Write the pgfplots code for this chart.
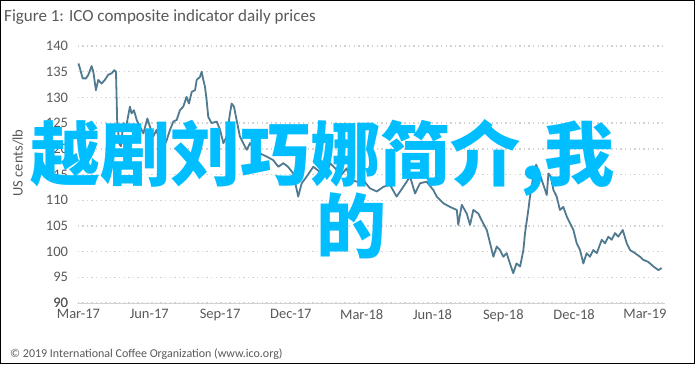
\documentclass[border=0pt]{standalone}
\usepackage{fontspec}
\setmainfont{Carlito}
\newfontfamily\cjk{Noto Sans CJK SC}
\usepackage{pgfplots}
\pgfplotsset{compat=1.18}
\definecolor{lineblue}{RGB}{80,122,143}
\definecolor{txtgray}{RGB}{89,89,89}
\definecolor{gridgray}{RGB}{210,210,210}
\definecolor{wm}{RGB}{0,190,255}
\begin{document}
\begin{tikzpicture}[x=1pt,y=1pt]
\useasboundingbox (0,0) rectangle (695,364);
\fill[white] (0,0) rectangle (695,364);
\begin{axis}[
  at={(77.5pt,61pt)}, anchor=south west,
  scale only axis, width=587.5pt, height=257pt,
  xmin=-0.04, xmax=24.85, ymin=90, ymax=140,
  xtick={0,3,6,9,12,15,18,21,24},
  xticklabels={Mar-17,Jun-17,Sep-17,Dec-17,Mar-18,Jun-18,Sep-18,Dec-18,Mar-19},
  ytick={90,95,...,140},
  /pgf/number format/assume math mode=true,
  tick label style={font=\fontsize{14.5}{17}\selectfont, text=txtgray},
  yticklabel style={xshift=-6pt},
  xticklabel style={yshift=-3pt},
  major tick length=0pt,
  axis x line*=bottom, axis y line*=left,
  x axis line style={draw=gridgray, line width=1pt, -},
  y axis line style={draw=none},
  ymajorgrids, grid style={draw=gridgray, line width=1.4pt, dash pattern=on 1.4pt off 3.2pt},
  extra y ticks={90}, extra y tick style={grid=none},
]
\addplot[lineblue, line width=1.8pt, line join=round] coordinates {
(0.00,136.6)(0.06,135.7)(0.18,133.7)(0.32,133.7)(0.42,134.4)(0.56,136.1)(0.63,135.0)
(0.74,131.4)(0.84,133.4)(0.98,132.7)(1.12,133.4)(1.26,134.4)(1.41,134.7)(1.52,135.3)
(1.59,135.0)(1.64,125.6)(1.73,121.0)(1.80,120.5)(1.90,125.0)(2.01,124.0)(2.18,128.2)
(2.25,126.9)(2.35,127.5)(2.47,125.6)(2.61,124.3)(2.75,123.0)(2.92,125.9)(3.03,124.3)
(3.17,122.4)(3.31,123.7)(3.45,121.0)(3.58,120.0)(3.74,121.7)(3.88,123.7)(4.02,125.3)
(4.16,125.6)(4.30,127.5)(4.44,128.2)(4.58,130.1)(4.68,128.8)(4.80,131.1)(4.94,131.4)
(5.01,133.4)(5.15,134.0)(5.22,135.0)(5.29,133.4)(5.36,132.1)(5.43,129.5)(5.50,126.2)
(5.64,125.0)(5.86,125.3)(6.00,123.7)(6.14,121.1)(6.28,122.4)(6.42,126.9)(6.49,128.8)
(6.59,128.2)(6.70,125.6)(6.84,122.4)(6.98,121.1)(7.13,119.8)(7.27,121.1)(7.48,119.8)
(7.69,119.1)(7.97,118.5)(8.25,117.8)(8.47,116.5)(8.68,117.2)(8.88,116.5)(9.10,115.2)
(9.31,110.7)(9.46,113.3)(9.67,114.6)(9.95,116.5)(10.23,115.5)(10.52,115.2)(10.66,117.2)
(10.94,115.9)(11.08,114.6)(11.36,116.2)(11.55,114.0)(11.79,113.6)(12.07,113.9)(12.35,112.3)
(12.64,111.7)(12.92,112.6)(13.20,113.0)(13.48,110.7)(13.76,112.6)(14.05,114.6)(14.26,111.3)
(14.47,113.3)(14.75,113.6)(15.03,112.0)(15.18,110.7)(15.46,109.4)(15.74,108.7)(16.03,108.1)
(16.09,105.2)(16.24,109.1)(16.45,107.4)(16.59,105.2)(16.73,108.1)(16.94,107.4)(17.08,106.1)
(17.30,104.2)(17.44,101.6)(17.58,99.0)(17.72,101.0)(17.86,100.3)(18.00,99.0)(18.14,99.7)
(18.28,97.7)(18.42,95.8)(18.56,97.7)(18.71,97.1)(18.85,100.3)(18.92,103.6)(19.06,108.1)
(19.13,110.7)(19.27,114.6)(19.39,116.9)(19.48,115.9)(19.63,113.9)(19.77,112.0)(19.84,111.0)
(19.91,115.2)(20.01,114.6)(20.12,112.0)(20.26,110.7)(20.40,108.1)(20.54,108.7)(20.69,106.8)
(20.83,105.5)(20.97,104.2)(21.11,101.6)(21.25,100.3)(21.39,97.7)(21.53,99.7)(21.67,99.0)
(21.81,100.3)(21.96,99.7)(22.17,102.3)(22.31,101.6)(22.45,102.9)(22.59,102.3)(22.73,103.6)
(22.87,102.9)(23.06,104.2)(23.23,101.6)(23.37,100.3)(23.58,99.7)(23.79,99.0)(23.93,98.4)
(24.14,98.0)(24.36,97.1)(24.57,96.4)(24.71,96.8)
};
\end{axis}
\node[anchor=base west, inner sep=0, font=\fontsize{17}{20}\selectfont, text=txtgray] at (4,342.3) {Figure 1: ICO composite indicator daily prices};
\node[rotate=90, inner sep=0, font=\fontsize{14.5}{17}\selectfont, text=txtgray] at (18,201) {US cents/lb};
\node[anchor=base west, inner sep=0, font=\fontsize{12}{14}\selectfont, text=txtgray] at (10,7) {© 2019 International Coffee Organization (www.ico.org)};
\node[anchor=base west, inner sep=0, text=wm, font=\cjk\bfseries\fontsize{70}{70}\selectfont] at (30,183) {越剧刘巧娜简介,我};
\node[anchor=base, inner sep=0, text=wm, font=\cjk\bfseries\fontsize{70}{70}\selectfont] at (351,111) {的};
\draw[black, line width=0.8pt] (0.4,0.4) rectangle (694.6,363.6);
\end{tikzpicture}
\end{document}
